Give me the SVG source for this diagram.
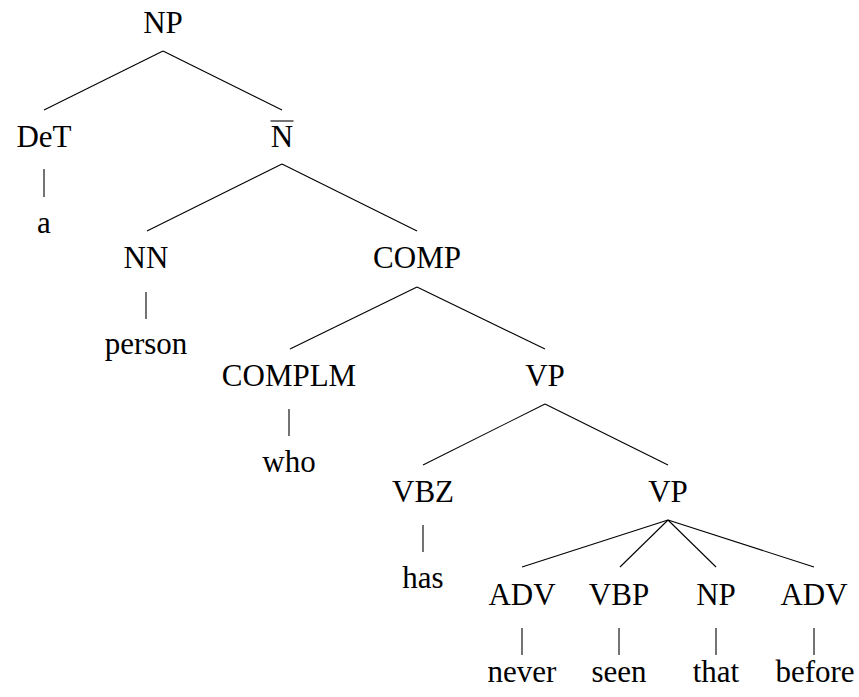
<svg xmlns="http://www.w3.org/2000/svg" width="859" height="697" viewBox="0 0 859 697">
<style>
text{font-family:"Liberation Serif","Times New Roman",serif;font-size:31px;fill:#000;text-anchor:middle}
.e{stroke:#000;stroke-width:1.1;fill:none}
</style>
<rect width="859" height="697" fill="#fff"/>
<g id="connectors" class="e">
<line x1="163" y1="51" x2="44" y2="110"/>
<line x1="163" y1="51" x2="282" y2="110"/>
<line x1="44" y1="169" x2="44" y2="197"/>
<line x1="282" y1="164" x2="147" y2="231"/>
<line x1="282" y1="164" x2="417" y2="231"/>
<line x1="146" y1="292" x2="146" y2="319"/>
<line x1="417" y1="287" x2="290" y2="349"/>
<line x1="417" y1="287" x2="545" y2="349"/>
<line x1="289" y1="409" x2="289" y2="436"/>
<line x1="545" y1="404" x2="423" y2="465"/>
<line x1="545" y1="404" x2="668" y2="465"/>
<line x1="423" y1="525" x2="423" y2="552"/>
<line x1="668" y1="520" x2="522" y2="567"/>
<line x1="668" y1="520" x2="620" y2="567"/>
<line x1="668" y1="520" x2="716" y2="567"/>
<line x1="668" y1="520" x2="814" y2="567"/>
<line x1="522" y1="628" x2="522" y2="655"/>
<line x1="619" y1="628" x2="619" y2="655"/>
<line x1="716" y1="628" x2="716" y2="655"/>
<line x1="814" y1="628" x2="814" y2="655"/>
</g>
<g id="n-np"><text x="163" y="33">NP</text></g>
<g id="n-det"><text x="44" y="147">DeT</text></g>
<g id="n-a"><text x="44" y="233">a</text></g>
<g id="n-nbar"><text x="282" y="147">N</text><line class="e" x1="270.5" y1="121" x2="293.5" y2="121"/></g>
<g id="n-nn"><text x="146" y="268">NN</text></g>
<g id="n-person"><text x="146" y="354">person</text></g>
<g id="n-comp"><text x="417" y="268">COMP</text></g>
<g id="n-complm"><text x="289" y="386">COMPLM</text></g>
<g id="n-who"><text x="289" y="472">who</text></g>
<g id="n-vp1"><text x="545" y="386">VP</text></g>
<g id="n-vbz"><text x="423" y="502">VBZ</text></g>
<g id="n-has"><text x="423" y="588">has</text></g>
<g id="n-vp2"><text x="668" y="502">VP</text></g>
<g id="n-adv1"><text x="522" y="605">ADV</text></g>
<g id="n-never"><text x="522" y="682">never</text></g>
<g id="n-vbp"><text x="619" y="605">VBP</text></g>
<g id="n-seen"><text x="619" y="682">seen</text></g>
<g id="n-np2"><text x="716" y="605">NP</text></g>
<g id="n-that"><text x="716" y="682">that</text></g>
<g id="n-adv2"><text x="814" y="605">ADV</text></g>
<g id="n-before"><text x="815" y="682">before</text></g>
</svg>
